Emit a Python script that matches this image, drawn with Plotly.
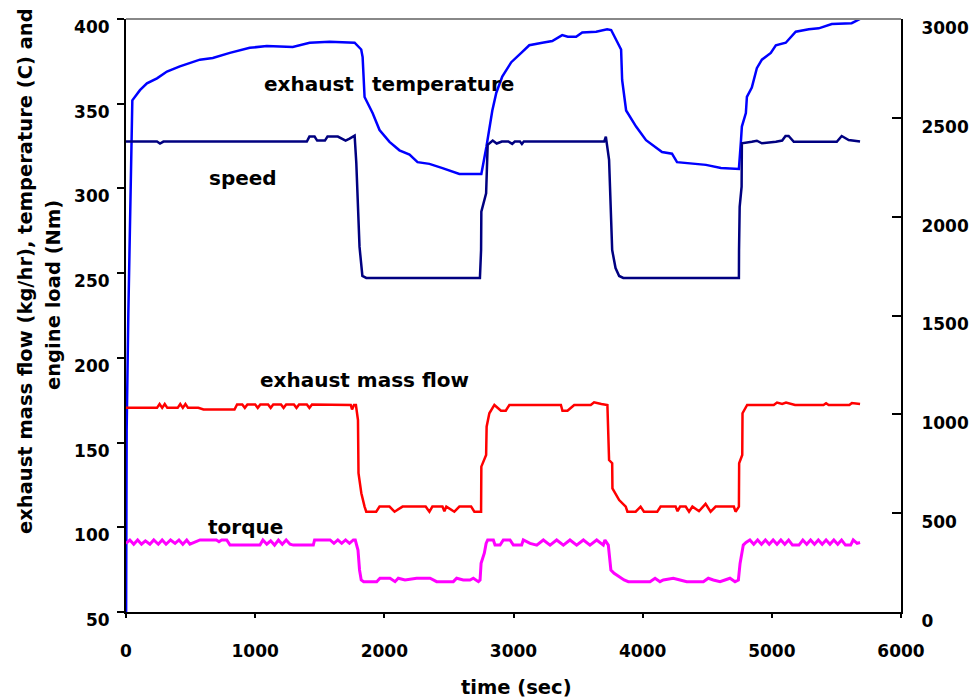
import plotly.graph_objects as go

# ---- engine test data -------------------------------------------------
# exhaust temperature (C), left axis
temp_time = [0, 5, 18, 31, 39, 49, 108, 162, 240, 317, 417, 572, 672, 804, 958,
             1090, 1291, 1422, 1576, 1770, 1821, 1832, 1847, 1909, 1963, 2040,
             2117, 2195, 2257, 2349, 2450, 2581, 2751, 2790, 2836, 2867, 2913,
             2983, 3060, 3122, 3223, 3300, 3377, 3420, 3485, 3532, 3640, 3725,
             3756, 3794, 3833, 3841, 3872, 3949, 4026, 4150, 4227, 4266, 4359,
             4436, 4490, 4606, 4745, 4760, 4768, 4799, 4807, 4845, 4884, 4923,
             4992, 5031, 5108, 5185, 5286, 5363, 5464, 5618, 5683]
temp_c = [29, 157, 226, 275, 301, 352, 358, 362, 365, 369, 372, 376, 377, 380, 383,
          384, 383.5, 386, 386.5, 386, 382, 377.5, 354, 344.5, 334.5, 327.5,
          322.5, 320, 315.5, 314.5, 312, 308.5, 308.5, 324.5, 346, 356.5, 366,
          374.5, 380, 384.5, 386, 387, 390.5, 389.5, 389.5, 392, 392.5, 394,
          393.5, 387.5, 382, 364, 346, 336.5, 328.5, 321.5, 320.5, 315.5, 315,
          314.5, 313.9, 312.1, 311.5, 327, 336.5, 344.5, 354, 359.5, 371, 376,
          380, 384.5, 386, 392.5, 394, 394.5, 397, 397.5, 400]

# engine speed (rpm), right axis
speed_time = [0, 240, 263, 290, 1400, 1420, 1460, 1480, 1540, 1560, 1640, 1700,
              1731, 1770, 1783, 1808, 1830, 1860, 2740, 2749, 2751, 2788, 2800,
              2839, 2870, 2910, 2960, 2990, 3010, 3050, 3065, 3080, 3702, 3715,
              3740, 3754, 3764, 3790, 3818, 3850, 4745, 4746, 4751, 4766, 4768,
              4845, 4884, 4923, 4960, 5031, 5080, 5106, 5130, 5170, 5503, 5541,
              5595, 5683]
speed_rpm = [2380, 2380, 2370, 2380, 2380, 2405, 2405, 2385, 2385, 2405, 2405, 2385,
             2395, 2410, 2272, 1847, 1700, 1690, 1690, 1831, 2025, 2118, 2363,
             2385, 2370, 2380, 2380, 2368, 2380, 2380, 2368, 2380, 2380, 2405,
             2287, 2000, 1831, 1740, 1700, 1690, 1690, 1831, 2050, 2152, 2371,
             2379, 2384, 2371, 2373, 2379, 2385, 2408, 2408, 2379, 2379, 2408,
             2388, 2380]

# exhaust mass flow (kg/hr), left axis
flow_time = [0, 240, 260, 280, 300, 320, 400, 420, 440, 460, 480, 560, 600, 840,
             860, 900, 920, 940, 1000, 1020, 1040, 1100, 1120, 1140, 1200, 1220,
             1240, 1300, 1320, 1340, 1400, 1420, 1440, 1600, 1740, 1750, 1765,
             1780, 1796, 1800, 1822, 1847, 1860, 1937, 1963, 2040, 2079, 2141,
             2320, 2349, 2372, 2450, 2465, 2480, 2542, 2581, 2672, 2697, 2749,
             2751, 2788, 2792, 2813, 2852, 2903, 2940, 2968, 3367, 3379, 3418,
             3470, 3598, 3624, 3680, 3727, 3740, 3764, 3766, 3818, 3869, 3882,
             3946, 3984, 4010, 4113, 4139, 4255, 4270, 4290, 4333, 4359, 4385,
             4436, 4487, 4526, 4565, 4706, 4719, 4745, 4747, 4771, 4773, 4809,
             5015, 5040, 5080, 5110, 5180, 5400, 5420, 5440, 5600, 5620, 5683]
flow_kghr = [170.5, 170.5, 172.8, 170.5, 172.8, 170.5, 170.5, 172.8, 170.5, 172.8,
             170.5, 170.5, 169.5, 169.5, 172.5, 172.5, 170.5, 172.5, 172.5, 170.5,
             172.5, 172.5, 170.5, 172.5, 172.5, 170.5, 172.5, 172.5, 170.5, 172.5,
             172.5, 170.5, 172.5, 172.5, 172.2, 169.5, 172.2, 172.2, 163.3, 131.9,
             120.1, 112.2, 109.2, 109.2, 112.2, 112.2, 109.2, 112.2, 112.2, 109.2,
             112.2, 112.2, 109.5, 112.2, 109.2, 112.2, 112.2, 109.2, 109.2, 135.8,
             142.7, 159.4, 167.3, 172.2, 168.8, 168.8, 172.2, 172.2, 168.8, 168.8,
             172.2, 172.2, 173.8, 172.8, 172.2, 139.7, 137.8, 123.0, 116.1, 112.2,
             109.2, 109.2, 112.2, 109.2, 109.2, 112.2, 112.2, 109.5, 112.2, 112.2,
             109.2, 112.2, 109.5, 113.8, 109.2, 112.2, 112.2, 109.2, 112.2, 137.8,
             142.7, 167.3, 172.2, 172.2, 173.6, 172.8, 173.6, 172.2, 172.2, 173.2,
             172.2, 172.2, 173.4, 172.8]

# engine load / torque (Nm), left axis
torque_time = [0, 30, 60, 90, 120, 150, 185, 215, 250, 280, 310, 345, 380, 410,
               440, 470, 495, 573, 700, 720, 740, 780, 805, 1037, 1060, 1090,
               1120, 1150, 1180, 1210, 1240, 1270, 1295, 1450, 1460, 1580, 1610,
               1640, 1670, 1700, 1730, 1760, 1775, 1783, 1796, 1808, 1821, 1840,
               1941, 1966, 2044, 2083, 2108, 2160, 2250, 2354, 2405, 2534, 2560,
               2611, 2663, 2689, 2728, 2741, 2749, 2774, 2788, 2800, 2844, 2857,
               2896, 2921, 2973, 2999, 3063, 3076, 3128, 3180, 3231, 3283, 3334,
               3386, 3437, 3489, 3541, 3592, 3644, 3695, 3708, 3734, 3740, 3754,
               3779, 3818, 3856, 3889, 4057, 4096, 4134, 4160, 4237, 4289, 4341,
               4470, 4508, 4547, 4599, 4637, 4676, 4715, 4741, 4754, 4779, 4800,
               4830, 4860, 4890, 4920, 4950, 4980, 5010, 5040, 5070, 5100, 5130,
               5160, 5210, 5240, 5270, 5300, 5330, 5360, 5390, 5420, 5450, 5480,
               5510, 5540, 5570, 5610, 5630, 5660, 5683]
torque_nm = [90.5, 92.5, 90, 92.5, 90, 92, 90, 92.5, 90, 92.5, 90, 92.5, 90.5, 92.5,
             90, 92.5, 90, 92.5, 92.5, 91.5, 92.5, 92.5, 89.5, 89.5, 92.5, 90,
             92, 89.5, 92.5, 90, 92.5, 90, 89.5, 89.5, 92.5, 92.5, 90.5,
             92.5, 90.5, 92.5, 90.5, 92.5, 92.5, 90.5, 86.6, 74.8, 68.9, 67.9,
             67.9, 69.9, 69.9, 67.9, 69.9, 68.9, 69.9, 69.9, 67.9, 67.9, 69.9,
             68.9, 68.9, 69.9, 67.9, 68.9, 78.7, 84.7, 90.5, 92.5, 92.5, 89.5,
             89.5, 92.5, 92.5, 89.5, 89.5, 92.5, 90.5, 89.5, 92.5, 89.5, 92.5,
             89.5, 92.5, 89.5, 92.5, 89.5, 92.5, 89.5, 92.5, 89.5, 84.7, 74.8,
             72.8, 70.8, 68.9, 67.9, 67.9, 69.9, 67.9, 68.9, 69.9, 68.9, 67.9,
             67.9, 69.9, 68.9, 67.9, 68.9, 69.9, 67.9, 68.9, 78.7, 89.5, 91,
             92.5, 90, 92.5, 90, 92.5, 90, 92.5, 90, 92.5, 90, 92.5,
             89.5, 89.5, 92.5, 90, 92.5, 90, 92.5, 90, 92.5, 90, 92.5,
             90, 92.5, 89.5, 89.5, 92.5, 90.5, 91]

x_ticks = [0, 1000, 2000, 3000, 4000, 5000, 6000]
left_ticks = [50, 100, 150, 200, 250, 300, 350, 400]
right_ticks = [0, 500, 1000, 1500, 2000, 2500, 3000]

FONT = "DejaVu Sans"

fig = go.Figure()
fig.add_trace(go.Scatter(x=temp_time, y=temp_c, mode="lines", name="exhaust temperature",
                         line=dict(color="#0000FF", width=2.5)))
fig.add_trace(go.Scatter(x=speed_time, y=speed_rpm, mode="lines", name="speed", yaxis="y2",
                         line=dict(color="#000080", width=2.5)))
fig.add_trace(go.Scatter(x=flow_time, y=flow_kghr, mode="lines", name="exhaust mass flow",
                         line=dict(color="#FF0000", width=2.5)))
fig.add_trace(go.Scatter(x=torque_time, y=torque_nm, mode="lines", name="torque",
                         line=dict(color="#FF00FF", width=3)))

tick_font = dict(family=FONT, size=17, color="black", weight=700)
label_font = dict(family=FONT, size=20, color="black", weight=700)
title_font = dict(family=FONT, size=19.5, color="black", weight=700)

fig.update_layout(
    width=974, height=700,
    margin=dict(l=126, r=73, t=19, b=88, autoexpand=False),
    paper_bgcolor="white", plot_bgcolor="white",
    showlegend=False,
    xaxis=dict(range=[0, 6000], tickvals=x_ticks, ticks="outside", ticklen=4,
               tickwidth=2, tickcolor="black", showline=True, linecolor="black",
               linewidth=2, showgrid=False, zeroline=False, tickfont=tick_font,
               ticklabelstandoff=19, automargin=False),
    yaxis=dict(range=[50, 400], tickvals=left_ticks, ticks="outside", ticklen=7,
               tickwidth=2, tickcolor="black", showline=True, linecolor="black",
               linewidth=2, showgrid=False, zeroline=False, tickfont=tick_font,
               ticklabelstandoff=4, ticklabelshift=8, automargin=False),
    yaxis2=dict(range=[0, 3000], tickvals=right_ticks, overlaying="y", side="right",
                ticks="inside", ticklen=9, tickwidth=2, tickcolor="black",
                showline=True, linecolor="black", linewidth=2, showgrid=False,
                zeroline=False, tickfont=tick_font, ticklabelstandoff=15,
                ticklabelshift=9, automargin=False),
    shapes=[dict(type="line", xref="paper", yref="paper", x0=0, x1=1, y0=1, y1=1,
                 line=dict(color="#888888", width=2))],
)

# series labels placed next to their curves
for text, x, y in [("exhaust", 1417, 361.6), ("temperature", 2454, 361.6),
                   ("speed", 902, 306.1), ("exhaust mass flow", 1843, 186.9),
                   ("torque", 925, 100.2)]:
    fig.add_annotation(x=x, y=y, xref="x", yref="y", text=text, showarrow=False,
                       font=label_font, xanchor="center", yanchor="middle")

# axis titles
fig.add_annotation(x=0.5045, y=-0.1265, xref="paper", yref="paper", text="time (sec)",
                   showarrow=False, font=title_font, xanchor="center", yanchor="middle")
fig.add_annotation(x=-0.1303, y=0.575, xref="paper", yref="paper",
                   text="exhaust mass flow (kg/hr), temperature (C) and",
                   textangle=-90, showarrow=False, font=title_font,
                   xanchor="center", yanchor="middle")
fig.add_annotation(x=-0.0929, y=0.5346, xref="paper", yref="paper",
                   text="engine load (Nm)", textangle=-90, showarrow=False,
                   font=title_font, xanchor="center", yanchor="middle")

fig.write_html("out.html")
